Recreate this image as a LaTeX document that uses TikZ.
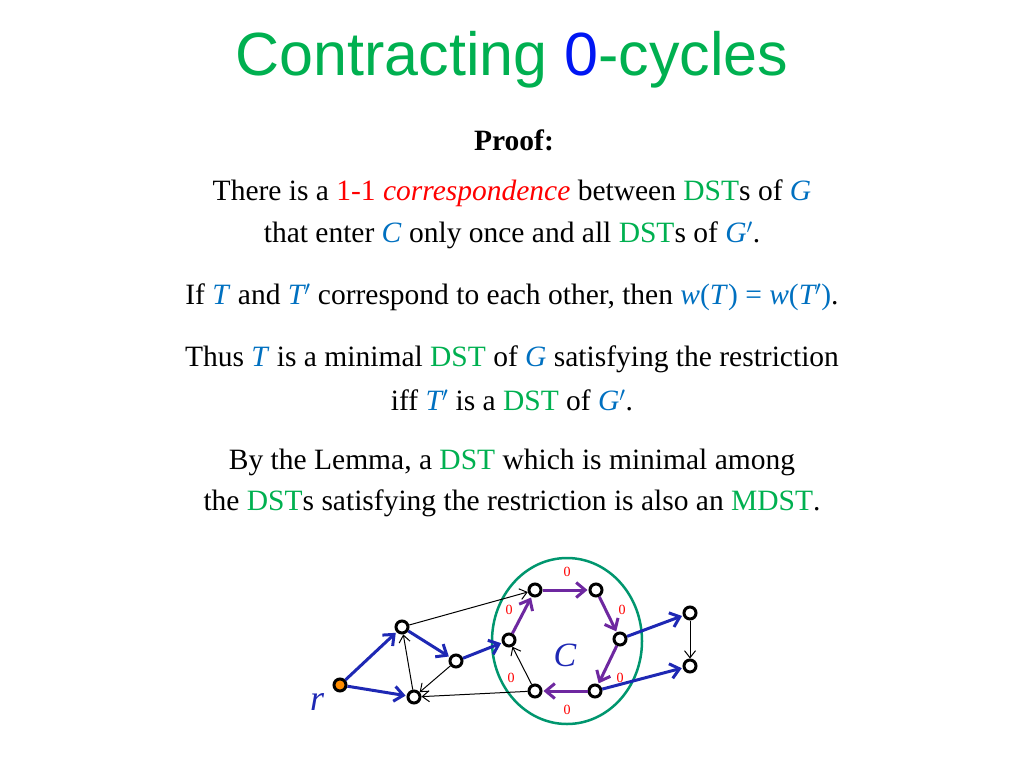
\documentclass[tikz,border=0pt]{standalone}
\usepackage{fontspec}
\setmainfont{Liberation Serif}
\setsansfont{Liberation Sans}
\usetikzlibrary{arrows.meta}
\definecolor{tgreen}{RGB}{0,176,80}
\definecolor{mblue}{RGB}{0,112,192}
\definecolor{cgreen}{RGB}{0,150,110}
\definecolor{tblue}{RGB}{30,40,180}
\definecolor{tpurple}{RGB}{110,40,160}
\newcommand{\gr}[1]{\textcolor{tgreen}{#1}}
\newcommand{\mv}[1]{\textcolor{mblue}{\textit{#1}}}
\begin{document}
\begin{tikzpicture}[x=1pt,y=-1pt,
  txt/.style={font=\fontsize{29.5}{34}\selectfont,anchor=center},
  vtx/.style={circle,draw=black,line width=3pt,fill=white,inner sep=0pt,minimum size=12pt},
  blu/.style={draw=tblue,line width=3pt,-{Straight Barb[length=9pt,width=15pt,line width=3pt]},shorten >=1pt},
  pur/.style={draw=tpurple,line width=3pt,-{Straight Barb[length=9pt,width=15pt,line width=3pt]},shorten >=1pt},
  thn/.style={draw=black,line width=1pt,-{Straight Barb[length=7pt,width=11pt]}},
  zero/.style={text=red,font=\fontsize{14}{14}\selectfont}]
\useasboundingbox (0,0) rectangle (1024,768);
\node[font=\sffamily\fontsize{61}{66}\selectfont,text=tgreen] (title) at (512,60) {Contracting \textcolor{blue!80!mblue}{0}-cycles};
\node[txt,font=\bfseries\fontsize{29.5}{34}\selectfont] (proof) at (514,140) {Proof:};
\node[txt] (l1) at (512,193) {There is a \textcolor{red}{1-1 \textit{correspondence}} between \gr{DST}s of \mv{G}};
\node[txt] (l2) at (512,235) {that enter \mv{C} only once and all \gr{DST}s of \mv{G$'$}.};
\node[txt] (l3) at (512,297) {If \mv{T} and \mv{T$'$} correspond to each other, then \mv{w}\textcolor{mblue}{(}\mv{T}\textcolor{mblue}{) = }\mv{w}\textcolor{mblue}{(}\mv{T$'$}\textcolor{mblue}{)}.};
\node[txt] (l4) at (512,359) {Thus \mv{T} is a minimal \gr{DST} of \mv{G} satisfying the restriction};
\node[txt] (l5) at (512,400) {iff \mv{T$'$} is a \gr{DST} of \mv{G$'$}.};
\node[txt] (l6) at (512,462) {By the Lemma, a \gr{DST} which is minimal among};
\node[txt] (l7) at (512,503) {the \gr{DST}s satisfying the restriction is also an \gr{MDST}.};
% graph
\draw[cgreen,line width=2.5pt] (567,641) ellipse [x radius=75,y radius=83];
\node[vtx,fill=orange!90!yellow] (r) at (340,685) {};
\node[vtx] (a) at (402,627) {};
\node[vtx] (b) at (414,697) {};
\node[vtx] (c) at (456,661) {};
\node[vtx] (d) at (509,640) {};
\node[vtx] (e) at (535,590) {};
\node[vtx] (f) at (596,590) {};
\node[vtx] (g) at (620,639) {};
\node[vtx] (h) at (595,691) {};
\node[vtx] (i) at (535,691) {};
\node[vtx] (j) at (690,613) {};
\node[vtx] (k) at (690,666) {};
\draw[thn] (a) -- (e);
\draw[thn] (b) -- (a);
\draw[thn] (c) -- (b);
\draw[thn] (i) -- (b);
\draw[thn] (i) -- (d);
\draw[thn] (j) -- (k);
\draw[blu] (r) -- (a);
\draw[blu] (r) -- (b);
\draw[blu] (a) -- (c);
\draw[blu] (c) -- (d);
\draw[blu] (g) -- (j);
\draw[blu] (h) -- (k);
\draw[pur] (d) -- (e);
\draw[pur] (e) -- (f);
\draw[pur] (f) -- (g);
\draw[pur] (g) -- (h);
\draw[pur] (h) -- (i);
\node[zero] (z1) at (567,572) {0};
\node[zero] (z2) at (509,610) {0};
\node[zero] (z3) at (622,610) {0};
\node[zero] (z4) at (511,678) {0};
\node[zero] (z5) at (620,678) {0};
\node[zero] (z6) at (567,710) {0};
\node[text=tblue,font=\itshape\fontsize{34}{34}\selectfont] (C) at (565,655) {C};
\node[text=tblue,font=\itshape\fontsize{36}{36}\selectfont] (rl) at (317,702) {r};
\end{tikzpicture}
\end{document}
